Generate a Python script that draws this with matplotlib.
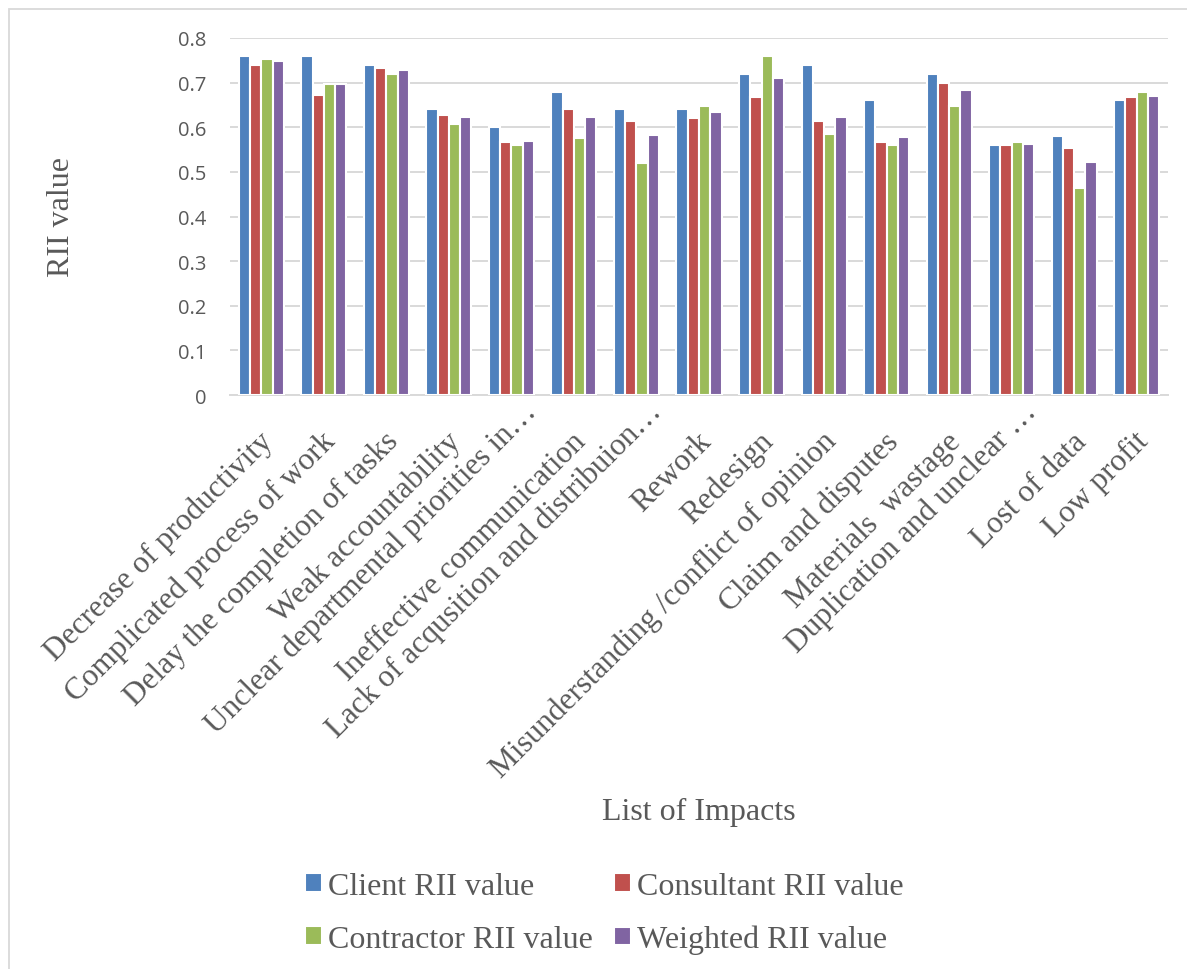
import numpy as np
import matplotlib
matplotlib.use("Agg")
import matplotlib.pyplot as plt
from matplotlib.transforms import offset_copy
from matplotlib.patches import Rectangle

categories = [
    "Decrease of productivity",
    "Complicated process of work",
    "Delay the completion of tasks",
    "Weak accountability",
    "Unclear departmental priorities in\u2026",
    "Ineffective communication",
    "Lack of acqusition and distribuion\u2026",
    "Rework",
    "Redesign",
    "Misunderstanding /conflict of opinion",
    "Claim and disputes",
    "Materials  wastage",
    "Duplication and unclear \u2026",
    "Lost of data",
    "Low profit",
]

client = [0.76, 0.76, 0.74, 0.64, 0.60, 0.68, 0.64, 0.64, 0.72, 0.74, 0.66, 0.72, 0.56, 0.58, 0.66]
consultant = [0.740, 0.673, 0.733, 0.627, 0.567, 0.640, 0.613, 0.620, 0.667, 0.613, 0.567, 0.700, 0.560, 0.553, 0.667]
contractor = [0.752, 0.696, 0.720, 0.608, 0.560, 0.576, 0.520, 0.648, 0.760, 0.584, 0.560, 0.648, 0.568, 0.464, 0.680]
weighted = [0.748, 0.696, 0.729, 0.623, 0.569, 0.623, 0.582, 0.634, 0.711, 0.623, 0.578, 0.683, 0.563, 0.523, 0.671]

series_names = ["Client RII value", "Consultant RII value",
                "Contractor RII value", "Weighted RII value"]
series_colors = ["#4F81BD", "#C0504D", "#9BBB59", "#8064A2"]
y_ticks = [0, 0.1, 0.2, 0.3, 0.4, 0.5, 0.6, 0.7, 0.8]
y_tick_labels = ["0", "0.1", "0.2", "0.3", "0.4", "0.5", "0.6", "0.7", "0.8"]

W, H = 1187, 970
fig = plt.figure(figsize=(W / 100, H / 100), dpi=100)
fig.patch.set_facecolor("white")

# chart-area frame
fig.patches.append(Rectangle((9 / W, -0.1), 1.2, 1.1 - 10 / H,
                             transform=fig.transFigure, fill=False,
                             edgecolor="#D9D9D9", linewidth=1.3))

ax = fig.add_axes([230 / W, 1 - 396 / H, 938 / W, 357 / H])

text_gray = "#595959"
serif = ["Liberation Serif", "DejaVu Serif"]

x = np.arange(len(categories))
width = 0.18
all_series = [client, consultant, contractor, weighted]
containers = []
for i, (vals, name, col) in enumerate(zip(all_series, series_names, series_colors)):
    c = ax.bar(x + (i - 1.5) * width, vals, width, color=col, label=name,
               edgecolor="white", linewidth=1.5, zorder=3)
    containers.append(c)

ax.set_xlim(-0.5, len(categories) - 0.5)
ax.set_ylim(0, 0.8)
ax.set_yticks(y_ticks)
ax.set_yticklabels(y_tick_labels, fontfamily="Open Sans", fontsize=14.5, color=text_gray)
ax.tick_params(axis="y", length=0, pad=17)
ax.set_xticks([])
ax.grid(axis="y", color="#D9D9D9", linewidth=1.4, zorder=0)
for side in ["top", "right", "left"]:
    ax.spines[side].set_visible(False)
ax.spines["bottom"].set_color("#D9D9D9")
ax.spines["bottom"].set_linewidth(1.4)

# rotated category labels, right end of each label sits under its group
base = ax.get_xaxis_transform()
for xi, lab in zip(x, categories):
    if lab.endswith("\u2026"):
        dx, dy = 26, -17
    else:
        dx, dy = 13, -47
    tr = offset_copy(base, fig=fig, x=dx, y=dy, units="dots")
    ax.text(xi, 0, lab, transform=tr, rotation=45, rotation_mode="anchor",
            ha="right", va="baseline", fontsize=22.5, family=serif,
            color=text_gray)

fig.text(62 / W, 1 - 217 / H, "RII value", rotation=90, ha="center", va="center",
         fontsize=23, family=serif, color=text_gray)
fig.text(699 / W, 1 - 812 / H, "List of Impacts", ha="center", va="center",
         fontsize=23, family=serif, color=text_gray)

# legend filled row by row: Client, Consultant / Contractor, Weighted
order = [0, 2, 1, 3]
leg = fig.legend([containers[k] for k in order], [series_names[k] for k in order],
                 loc="upper left", bbox_to_anchor=(305 / W, 1 - 873 / H),
                 ncol=2, frameon=False, prop={"family": serif, "size": 23},
                 handlelength=0.52, handleheight=0.52, handletextpad=0.2,
                 columnspacing=0.66, labelspacing=0.74, borderpad=0,
                 borderaxespad=0)
for t in leg.get_texts():
    t.set_color(text_gray)

fig.savefig("out.png", dpi=100, facecolor="white")
